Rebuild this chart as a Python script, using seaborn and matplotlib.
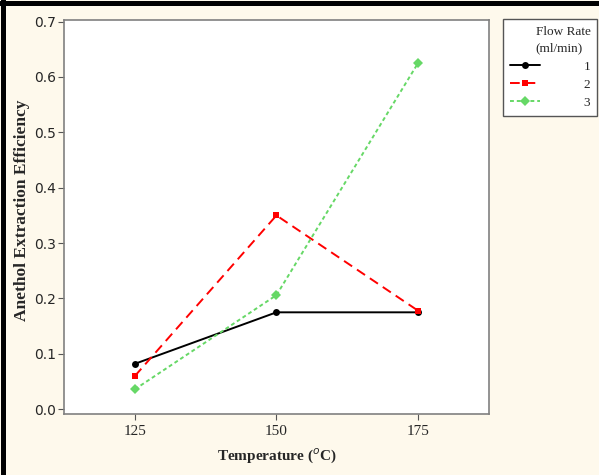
import matplotlib.pyplot as plt
import matplotlib.lines as mlines
import pandas as pd
import seaborn as sns

temperature = [125, 150, 175]
rate_1 = [0.082, 0.175, 0.175]
rate_2 = [0.060, 0.350, 0.178]
rate_3 = [0.036, 0.206, 0.625]
flow_rates = ["1", "2", "3"]

df = pd.DataFrame({
    "Temperature": temperature * 3,
    "Efficiency": rate_1 + rate_2 + rate_3,
    "Flow": [f for f in flow_rates for _ in temperature],
})

sns.set_style("white")
bg = "#FEF9EC"
fig = plt.figure(figsize=(5.99, 4.75), dpi=100, facecolor=bg)
ax = fig.add_axes([0.107, 0.128, 0.709, 0.830])

palette = {"1": "black", "2": "#FF0000", "3": "#66D866"}
dashes = {"1": "", "2": (5, 3), "3": (2, 1.5)}
markers = {"1": "o", "2": "s", "3": "D"}
sns.lineplot(data=df, x="Temperature", y="Efficiency", hue="Flow", style="Flow",
             palette=palette, dashes=dashes, markers=markers, markersize=5,
             markeredgewidth=0, linewidth=1.4, ax=ax)

ax.set_xlim(112.5, 187.5)
ax.set_ylim(-0.009, 0.703)
ax.set_xticks(temperature)
ax.set_yticks([0.0, 0.1, 0.2, 0.3, 0.4, 0.5, 0.6, 0.7])
ax.set_yticklabels([f"{v:.1f}" for v in ax.get_yticks()], family="DejaVu Sans", fontsize=10)
ax.set_xticklabels([str(t) for t in temperature], family="Liberation Serif", fontsize=11)
ax.tick_params(axis="both", direction="out", length=4, width=0.8, color="#555555",
               bottom=True, left=True)
ax.tick_params(axis="y", pad=2)
for s in ax.spines.values():
    s.set_color("#808080")
    s.set_linewidth(1.2)

ax.set_xlabel("Temperature ($^{o}$C)", family="Liberation Serif", fontweight="bold",
              fontsize=11, labelpad=6)
ax.set_ylabel("Anethol Extraction Efficiency", family="Liberation Serif", fontweight="bold",
              fontsize=12.5)
ax.yaxis.label.set_va("center")
ax.yaxis.set_label_coords(-0.098, 0.518)

handles, labels = ax.get_legend_handles_labels()
ax.get_legend().remove()
leg = fig.legend(handles, labels, title="Flow Rate\n(ml/min)", loc="upper left",
                 bbox_to_anchor=(0.840, 0.96), frameon=True, fancybox=False,
                 handlelength=2.3, handletextpad=3.3, borderpad=0.5, labelspacing=0.45,
                 borderaxespad=0,
                 prop={"family": "Liberation Serif", "size": 9.5},
                 title_fontproperties={"family": "Liberation Serif", "size": 9.5},
                 alignment="right", facecolor="white", edgecolor="#555555", framealpha=1)
leg.get_frame().set_linewidth(1.0)
leg.get_title().set_linespacing(1.55)

# thick black frame on top and left of the figure
fig.add_artist(mlines.Line2D([0, 1], [1 - 2.5 / 475, 1 - 2.5 / 475], color="black",
                             linewidth=3.6, transform=fig.transFigure))
fig.add_artist(mlines.Line2D([2.5 / 599, 2.5 / 599], [0, 1], color="black", linewidth=3.6,
                             transform=fig.transFigure))

fig.savefig("out.png", dpi=100, facecolor=bg)
